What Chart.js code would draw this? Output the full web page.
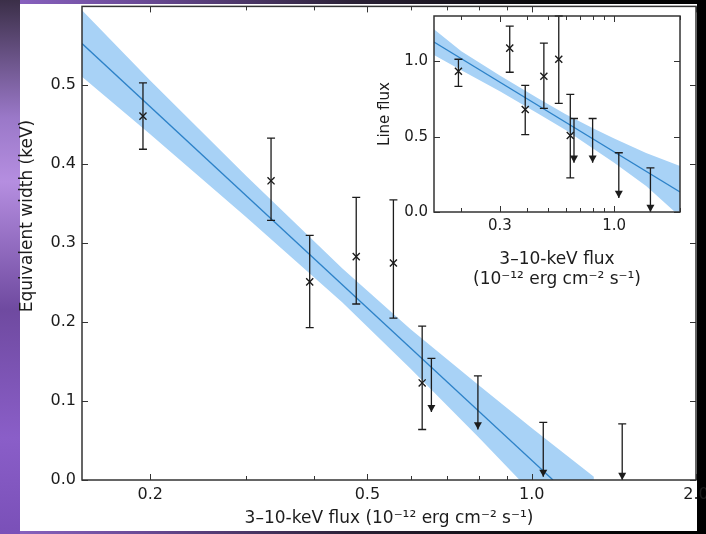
<!DOCTYPE html>
<html>
<head>
<meta charset="utf-8">
<script src="https://cdn.jsdelivr.net/npm/chart.js@4.4.1/dist/chart.umd.min.js"></script>
<style>
  html, body { margin: 0; padding: 0; overflow: hidden; }
  body {
    width: 706px; height: 534px; position: relative;
    background: linear-gradient(90deg, #8c64c4 0%, #6a4a96 20%, #2b2136 50%, #0b0b0d 75%, #000 100%);
  }
  #leftGlow {
    position: absolute; left: 0; top: 0; width: 20px; height: 534px;
    background: linear-gradient(180deg, #3b2f48 0%, #9a78c8 22%, #b58ee0 34%, #6f4aa0 58%, #8a5ec8 82%, #7a50b8 100%);
  }
  #paper { position: absolute; left: 20px; top: 4px; width: 677px; height: 527px; background: #fff; }
  #mainChart { position: absolute; left: 0; top: 0; }
  #insetChart { position: absolute; left: 360px; top: 0; }
</style>
</head>
<body>
<div id="leftGlow"></div>
<div id="paper"></div>
<canvas id="mainChart" width="730" height="534"></canvas>
<canvas id="insetChart" width="346" height="300"></canvas>
<script>
// 3-10-keV flux of each observation (10^-12 erg cm^-2 s^-1), same for both panels
const flux = [0.194, 0.333, 0.392, 0.477, 0.558, 0.630, 0.655, 0.797, 1.05, 1.465];
const isUpperLimit = [false, false, false, false, false, false, true, true, true, true];

// main panel: equivalent width (keV); for upper limits "low" is the arrow tip
const ewValue = [0.461, 0.379, 0.251, 0.283, 0.275, 0.123, null, null, null, null];
const ewHigh  = [0.503, 0.433, 0.310, 0.358, 0.355, 0.195, 0.154, 0.132, 0.073, 0.071];
const ewLow   = [0.419, 0.329, 0.193, 0.223, 0.205, 0.064, 0.086, 0.064, 0.004, 0.000];

// main panel fit line and confidence band
const ewFitFlux  = [0.15, 1.094];
const ewFit      = [0.553, 0.0];
const ewBandFlux = [0.15, 0.2, 0.3, 0.45, 0.6, 0.8, 1.0, 1.3];
const ewBandHigh = [0.595, 0.506, 0.385, 0.268, 0.191, 0.120, 0.066, 0.004];
const ewBandLow  = [0.511, 0.438, 0.333, 0.225, 0.141, 0.054, -0.016, -0.100];

// inset: line flux
const lfValue = [0.933, 1.087, 0.680, 0.900, 1.013, 0.507, null, null, null, null];
const lfHigh  = [1.013, 1.233, 0.840, 1.120, 1.300, 0.780, 0.620, 0.620, 0.393, 0.293];
const lfLow   = [0.833, 0.927, 0.513, 0.687, 0.720, 0.227, 0.327, 0.327, 0.093, 0.000];
const lfFitFlux  = [0.15, 2.0];
const lfFit      = [1.127, 0.133];
const lfBandFlux = [0.15, 0.2, 0.3, 0.45, 0.6, 0.8, 1.0, 1.4, 2.0];
const lfBandHigh = [1.212, 1.066, 0.905, 0.752, 0.648, 0.556, 0.488, 0.392, 0.305];
const lfBandLow  = [1.042, 0.940, 0.801, 0.652, 0.544, 0.422, 0.326, 0.172, -0.030];

// ticks
const mainXTicks  = [0.2, 0.3, 0.4, 0.5, 0.6, 0.7, 0.8, 0.9, 1.0, 2.0];
const mainXLabels = [0.2, 0.5, 1.0, 2.0];
const mainYTicks  = [0, 0.1, 0.2, 0.3, 0.4, 0.5];
const insetXTicks  = [0.2, 0.3, 0.4, 0.5, 0.6, 0.7, 0.8, 0.9, 1.0, 2.0];
const insetXLabels = [0.3, 1.0];
const insetYTicks  = [0, 0.5, 1.0];

const FONT = '"DejaVu Sans", sans-serif';
const INK = '#1c1c1c';
const BAND = 'rgb(168, 210, 246)';
const FIT = 'rgb(45, 130, 200)';
const FLUX_TITLE = '(10\u207B\u00B9\u00B2 erg cm\u207B\u00B2 s\u207B\u00B9)';

function pairs(xs, ys) {
    return xs.map((x, i) => ({ x: x, y: ys[i] })).filter(p => p.y !== null);
}

// error bars with caps, or a down arrow for upper limits
const errorBars = {
    id: 'errorBars',
    afterDatasetsDraw(chart, args, o) {
        const { ctx, scales: { x, y } } = chart;
        ctx.save();
        ctx.strokeStyle = INK;
        ctx.fillStyle = INK;
        ctx.lineWidth = 1.3;
        o.x.forEach((xv, i) => {
            const px = x.getPixelForValue(xv);
            const top = y.getPixelForValue(o.high[i]);
            const bot = y.getPixelForValue(o.low[i]);
            ctx.beginPath();
            ctx.moveTo(px, top); ctx.lineTo(px, bot);
            ctx.moveTo(px - o.cap, top); ctx.lineTo(px + o.cap, top);
            if (!o.limit[i]) {
                ctx.moveTo(px - o.cap, bot); ctx.lineTo(px + o.cap, bot);
            }
            ctx.stroke();
            if (o.limit[i]) {
                ctx.beginPath();
                ctx.moveTo(px, bot);
                ctx.lineTo(px - o.arrow, bot - o.arrow * 1.8);
                ctx.lineTo(px + o.arrow, bot - o.arrow * 1.8);
                ctx.closePath();
                ctx.fill();
            }
        });
        ctx.restore();
    }
};

// box around the plot and inward ticks on all four sides
const frameTicks = {
    id: 'frameTicks',
    afterDraw(chart, args, o) {
        const { ctx, chartArea: a, scales: { x, y } } = chart;
        ctx.save();
        ctx.strokeStyle = '#333';
        ctx.lineWidth = 1;
        ctx.beginPath();
        x.ticks.forEach(t => {
            const px = Math.round(x.getPixelForValue(t.value)) + 0.5;
            const len = o.xMajor.includes(t.value) ? 6 : 4;
            ctx.moveTo(px, a.bottom); ctx.lineTo(px, a.bottom - len);
            ctx.moveTo(px, a.top); ctx.lineTo(px, a.top + len);
        });
        y.ticks.forEach(t => {
            const py = Math.round(y.getPixelForValue(t.value)) + 0.5;
            ctx.moveTo(a.left, py); ctx.lineTo(a.left + 6, py);
            ctx.moveTo(a.right, py); ctx.lineTo(a.right - 6, py);
        });
        ctx.stroke();
        ctx.lineWidth = 1.5;
        ctx.strokeRect(a.left, a.top, a.right - a.left, a.bottom - a.top);
        ctx.restore();
    }
};

// y title that sits a little above the centre of its axis
const freeTitles = {
    id: 'freeTitles',
    afterDraw(chart, args, o) {
        const ctx = chart.ctx;
        o.items.forEach(t => {
            ctx.save();
            ctx.font = t.size + 'px ' + FONT;
            ctx.fillStyle = INK;
            ctx.textAlign = 'center';
            ctx.textBaseline = 'middle';
            ctx.translate(t.x, t.y);
            ctx.rotate(t.rotation || 0);
            ctx.fillText(t.text, 0, 0);
            ctx.restore();
        });
    }
};

function makePanel(id, p) {
    return new Chart(document.getElementById(id), {
        type: 'line',
        data: {
            datasets: [
                { data: pairs(p.bandX, p.bandHigh), borderWidth: 0, pointRadius: 0, fill: false, order: 4 },
                { data: pairs(p.bandX, p.bandLow), borderWidth: 0, pointRadius: 0, fill: '-1', backgroundColor: BAND, order: 3 },
                { data: pairs(p.fitX, p.fit), borderColor: FIT, borderWidth: 1.3, pointRadius: 0, fill: false, order: 2 },
                {
                    data: pairs(flux, p.value), showLine: false, pointStyle: 'crossRot', order: 1,
                    pointRadius: p.marker, borderColor: INK, borderWidth: 1.4
                }
            ]
        },
        options: {
            responsive: false,
            animation: false,
            events: [],
            layout: { padding: p.padding },
            scales: {
                x: {
                    type: 'logarithmic',
                    min: p.xMin,
                    max: p.xMax,
                    afterBuildTicks: s => { s.ticks = p.xTicks.map(v => ({ value: v })); },
                    afterFit: s => { s.height = p.xHeight; },
                    ticks: {
                        autoSkip: false, maxRotation: 0, padding: 5,
                        font: { family: FONT, size: p.tickSize }, color: INK,
                        callback: v => p.xLabels.includes(v) ? v.toFixed(1) : ''
                    },
                    grid: { display: false, drawTicks: false },
                    border: { display: false },
                    title: p.xTitle
                },
                y: {
                    min: 0,
                    max: p.yMax,
                    afterBuildTicks: s => { s.ticks = p.yTicks.map(v => ({ value: v })); },
                    afterFit: s => { s.width = p.yWidth; s.paddingTop = 0; },
                    ticks: {
                        padding: 6,
                        font: { family: FONT, size: p.tickSize }, color: INK,
                        callback: v => v.toFixed(1)
                    },
                    grid: { display: false, drawTicks: false },
                    border: { display: false },
                    title: p.yTitle
                }
            },
            plugins: {
                legend: { display: false },
                tooltip: { enabled: false },
                errorBars: { x: flux, high: p.high, low: p.low, limit: isUpperLimit, cap: 4, arrow: 4 },
                frameTicks: { xMajor: p.xLabels },
                freeTitles: { items: p.freeTitles }
            }
        },
        plugins: [errorBars, frameTicks, freeTitles]
    });
}

// main panel
makePanel('mainChart', {
    xMin: 0.15, xMax: 2.0, yMax: 0.6,
    xTicks: mainXTicks, xLabels: mainXLabels, yTicks: mainYTicks,
    value: ewValue, high: ewHigh, low: ewLow,
    fitX: ewFitFlux, fit: ewFit, bandX: ewBandFlux, bandHigh: ewBandHigh, bandLow: ewBandLow,
    padding: { left: 0, top: 5, right: 34, bottom: 0 },
    yWidth: 82, xHeight: 54, tickSize: 16, marker: 5,
    xTitle: {
        display: true,
        text: '3\u201310-keV flux ' + FLUX_TITLE,
        font: { family: FONT, size: 17 }, color: INK,
        padding: { top: 0, bottom: 5 }
    },
    yTitle: { display: false },
    freeTitles: [
        { text: 'Equivalent width (keV)', x: 28, y: 216, rotation: -Math.PI / 2, size: 17 }
    ]
});

// inset panel
makePanel('insetChart', {
    xMin: 0.15, xMax: 2.0, yMax: 1.3,
    xTicks: insetXTicks, xLabels: insetXLabels, yTicks: insetYTicks,
    value: lfValue, high: lfHigh, low: lfLow,
    fitX: lfFitFlux, fit: lfFit, bandX: lfBandFlux, bandHigh: lfBandHigh, bandLow: lfBandLow,
    padding: { left: 0, top: 16, right: 26, bottom: 0 },
    yWidth: 74, xHeight: 88, tickSize: 15, marker: 5,
    xTitle: {
        display: true,
        text: ['3\u201310-keV flux', FLUX_TITLE],
        font: { family: FONT, size: 17 }, color: INK,
        padding: { top: 0, bottom: 10 }
    },
    yTitle: {
        display: true, text: 'Line flux',
        font: { family: FONT, size: 15 }, color: INK,
        padding: { top: 16, bottom: 0 }
    },
    freeTitles: []
});
</script>
</body>
</html>
